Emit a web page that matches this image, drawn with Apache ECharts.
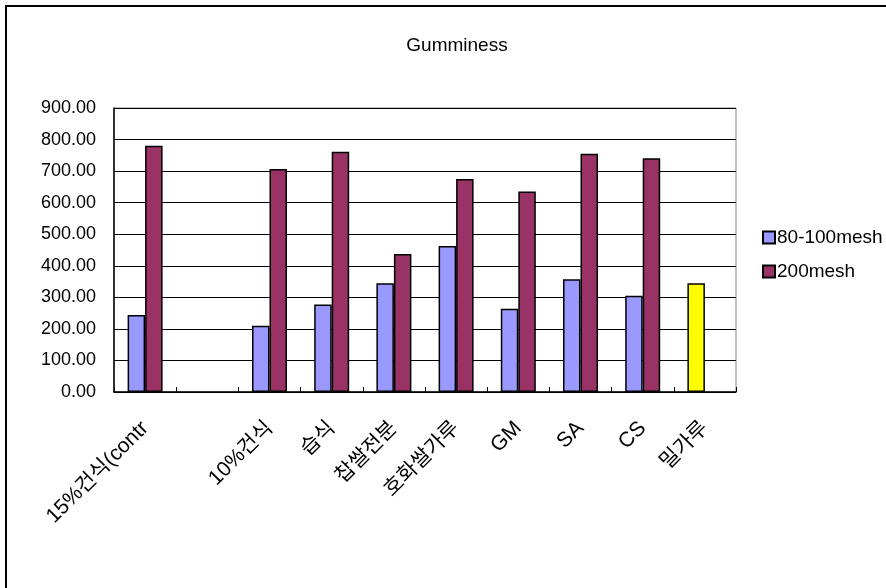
<!DOCTYPE html>
<html>
<head>
<meta charset="utf-8">
<script src="https://cdn.jsdelivr.net/npm/echarts@6/dist/echarts.min.js"></script>
<style>
  html, body { margin: 0; padding: 0; background: #fff; }
  #chart { width: 886px; height: 588px; }
</style>
</head>
<body>
<div id="chart"></div>
<script>
// Sample names along the category axis (second slot intentionally blank)
const categories = ['15%건식(control)', '', '10%건식', '습식', '찹쌀전분', '호화쌀가루', 'GM', 'SA', 'CS', '밀가루'];
// Gumminess by particle size
const mesh80to100 = [244, null, 210, 277, 345, 463, 264, 357, 305, 345];
const mesh200 = [780, null, 707, 761, 437, 675, 635, 755, 741, null];
const seriesNames = ['80-100mesh', '200mesh'];
const yTicks = { min: 0, max: 900, step: 100 };

const FONT = '"Liberation Sans", Arial, "Noto Sans CJK KR", sans-serif';
const BLUE = '#9999FF';
const PLUM = '#993366';
const YELLOW = '#FFFF00';

// The wheat flour reference sample is highlighted in yellow
const firstSeriesData = mesh80to100.map((v, i) =>
  categories[i] === '밀가루' ? { value: v, itemStyle: { color: YELLOW } } : v
);

const chart = echarts.init(document.getElementById('chart'), null, { renderer: 'canvas' });

chart.setOption({
  backgroundColor: '#ffffff',
  animation: false,
  title: {
    text: 'Gumminess',
    left: 452,
    textAlign: 'center',
    top: 31,
    textStyle: { fontFamily: FONT, fontSize: 19, fontWeight: 'normal', color: '#000' }
  },
  legend: {
    orient: 'vertical',
    left: 757,
    top: 223,
    itemWidth: 12,
    itemHeight: 12,
    itemGap: 15,
    icon: 'rect',
    textStyle: { fontFamily: FONT, fontSize: 19, color: '#000', padding: [0, 0, 0, -3] },
    data: seriesNames
  },
  grid: {
    left: 114,
    right: 150,
    top: 108,
    bottom: 196,
    show: true,
    borderColor: '#808080',
    borderWidth: 1,
    containLabel: false
  },
  xAxis: {
    type: 'category',
    data: categories,
    axisLine: { lineStyle: { color: '#000', width: 1.5 } },
    axisTick: { show: true, inside: true, length: 5, lineStyle: { color: '#000' } },
    axisLabel: {
      interval: 0,
      rotate: 45,
      margin: 33,
      fontFamily: FONT,
      fontSize: 21,
      color: '#000',
      width: 147,
      overflow: 'truncate',
      ellipsis: ''
    },
    splitLine: { show: false }
  },
  yAxis: {
    type: 'value',
    min: yTicks.min,
    max: yTicks.max,
    interval: yTicks.step,
    axisLine: { show: true, lineStyle: { color: '#000', width: 1.5 } },
    axisTick: { show: false },
    axisLabel: {
      margin: 18,
      fontFamily: FONT,
      fontSize: 18,
      color: '#000',
      formatter: v => v.toFixed(2)
    },
    splitLine: { show: true, lineStyle: { color: '#000', width: 1 } }
  },
  series: [
    {
      name: seriesNames[0],
      type: 'bar',
      data: firstSeriesData,
      barWidth: 17.5,
      barGap: '0%',
      itemStyle: { color: BLUE, borderColor: '#000', borderWidth: 1.5 }
    },
    {
      name: seriesNames[1],
      type: 'bar',
      data: mesh200,
      barWidth: 17.5,
      barGap: '0%',
      itemStyle: { color: PLUM, borderColor: '#000', borderWidth: 1.5 }
    }
  ],
  graphic: [
    {
      type: 'rect',
      silent: true,
      z: 100,
      shape: { x: 6, y: 6, width: 920, height: 620 },
      style: { fill: 'none', stroke: '#000', lineWidth: 2 }
    }
  ]
});
</script>
</body>
</html>
